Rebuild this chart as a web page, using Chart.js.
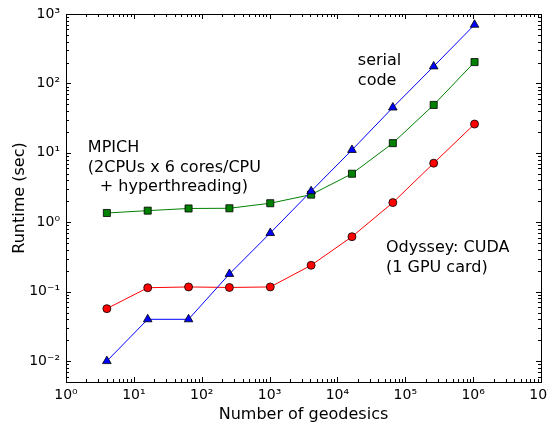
<!DOCTYPE html>
<html>
<head>
<meta charset="utf-8">
<script src="https://cdn.jsdelivr.net/npm/chart.js@4.4.1/dist/chart.umd.min.js"></script>
<style>
  html, body { margin: 0; padding: 0; background: #fff; }
  #wrap { width: 548px; height: 424px; position: relative; }
</style>
</head>
<body>
<div id="wrap"><canvas id="grafico"></canvas></div>
<script>
// number of geodesics (x) and runtime in seconds (y)
const geodesics = [4, 16, 64, 256, 1024, 4096, 16384, 65536, 262144, 1048576];
const serialCode = [0.01, 0.04, 0.04, 0.18, 0.7, 2.8, 11, 45, 176, 700];
const mpich = [1.36, 1.47, 1.58, 1.59, 1.88, 2.5, 5.0, 13.8, 49, 203];
const cuda = [0.057, 0.114, 0.117, 0.115, 0.117, 0.24, 0.62, 1.92, 7.1, 26];

const xTicks = [1, 10, 100, 1e3, 1e4, 1e5, 1e6, 1e7];
const yTicks = [0.01, 0.1, 1, 10, 100, 1000];

// text blocks: anchor in data coords, lines below it
const notas = [
    { x: 2.0e4, y: 184, lines: ["serial", "code"], indent: [0, 0] },
    { x: 2.1, y: 10.2, lines: ["MPICH", "(2CPUs x 6 cores/CPU", "+ hyperthreading)"], indent: [0, 0, 12] },
    { x: 5.2e4, y: 0.368, lines: ["Odyssey: CUDA", "(1 GPU card)"], indent: [0, 0] }
];

const sup = { "-": "\u207B", "0": "\u2070", "1": "\u00B9", "2": "\u00B2", "3": "\u00B3",
              "4": "\u2074", "5": "\u2075", "6": "\u2076", "7": "\u2077", "8": "\u2078", "9": "\u2079" };
function potencia(v) {
    const e = String(Math.round(Math.log10(v)));
    return "10" + e.split("").map(c => sup[c]).join("");
}

function pontos(ys) {
    return geodesics.map((g, i) => ({ x: g, y: ys[i] }));
}

// inward ticks on all four sides + frame + text
const molduraPlugin = {
    id: "moldura",
    afterDraw(chart) {
        const { ctx, chartArea: a, scales: { x, y } } = chart;
        ctx.save();
        ctx.strokeStyle = "#000";
        ctx.lineWidth = 1;
        ctx.beginPath();
        for (let d = 0; d < 7; d++) {
            for (let m = 1; m <= 9; m++) {
                const v = m * Math.pow(10, d);
                if (v < x.min || v > x.max) continue;
                const px = Math.round(x.getPixelForValue(v)) + 0.5;
                const len = m === 1 ? 5 : 3;
                ctx.moveTo(px, a.bottom); ctx.lineTo(px, a.bottom - len);
                ctx.moveTo(px, a.top); ctx.lineTo(px, a.top + len);
            }
        }
        for (let d = -3; d < 3; d++) {
            for (let m = 1; m <= 9; m++) {
                const v = m * Math.pow(10, d);
                if (v < y.min * 0.999 || v > y.max * 1.001) continue;
                const py = Math.round(y.getPixelForValue(v)) + 0.5;
                const len = m === 1 ? 5 : 3;
                ctx.moveTo(a.left, py); ctx.lineTo(a.left + len, py);
                ctx.moveTo(a.right, py); ctx.lineTo(a.right - len, py);
            }
        }
        ctx.stroke();
        ctx.strokeRect(Math.round(a.left) + 0.5, Math.round(a.top) + 0.5,
                       Math.round(a.right - a.left), Math.round(a.bottom - a.top));

        ctx.fillStyle = "#000";
        ctx.font = "16px 'DejaVu Sans'";
        ctx.textBaseline = "alphabetic";
        ctx.textAlign = "left";
        notas.forEach(n => {
            const px = x.getPixelForValue(n.x);
            const py = y.getPixelForValue(n.y);
            n.lines.forEach((t, i) => ctx.fillText(t, px + n.indent[i], py + i * 19.5));
        });
        ctx.restore();
    }
};

const ctx = document.getElementById("grafico");

new Chart(ctx, {
    type: "line",
    data: {
        datasets: [
            {
                label: "serial code",
                data: pontos(serialCode),
                borderColor: "#0000ff",
                backgroundColor: "#0000ff",
                pointBackgroundColor: "#0000ff",
                pointBorderColor: "#000",
                pointStyle: "triangle",
                pointRadius: 5,
                pointBorderWidth: 0.8,
                borderWidth: 1,
                tension: 0
            },
            {
                label: "MPICH",
                data: pontos(mpich),
                borderColor: "#008000",
                backgroundColor: "#008000",
                pointBackgroundColor: "#008000",
                pointBorderColor: "#000",
                pointStyle: "rect",
                pointRadius: 5,
                pointBorderWidth: 0.8,
                borderWidth: 1,
                tension: 0
            },
            {
                label: "CUDA",
                data: pontos(cuda),
                borderColor: "#ff0000",
                backgroundColor: "#ff0000",
                pointBackgroundColor: "#ff0000",
                pointBorderColor: "#000",
                pointStyle: "circle",
                pointRadius: 4,
                pointBorderWidth: 0.8,
                borderWidth: 1,
                tension: 0
            }
        ]
    },
    options: {
        responsive: true,
        maintainAspectRatio: false,
        animation: false,
        events: [],
        layout: { padding: { left: 0, top: 14, right: 7, bottom: 0 } },
        plugins: {
            legend: { display: false },
            tooltip: { enabled: false }
        },
        scales: {
            x: {
                type: "logarithmic",
                min: 1,
                max: 1e7,
                afterBuildTicks: s => { s.ticks = xTicks.map(v => ({ value: v })); },
                afterFit: s => { s.height = 42; s.paddingLeft = 0; s.paddingRight = 0; },
                grid: { display: false, drawTicks: false },
                border: { display: false },
                ticks: {
                    color: "#000",
                    font: { family: "DejaVu Sans", size: 14 },
                    padding: 5,
                    maxRotation: 0,
                    autoSkip: false,
                    callback: v => potencia(v)
                },
                title: {
                    display: true,
                    text: "Number of geodesics",
                    color: "#000",
                    font: { family: "DejaVu Sans", size: 16 },
                    padding: { top: 0, bottom: 0 }
                }
            },
            y: {
                type: "logarithmic",
                min: 0.005,
                max: 1000,
                afterBuildTicks: s => { s.ticks = yTicks.map(v => ({ value: v })); },
                afterFit: s => { s.width = 66; s.paddingTop = 0; s.paddingBottom = 0; },
                grid: { display: false, drawTicks: false },
                border: { display: false },
                ticks: {
                    color: "#000",
                    font: { family: "DejaVu Sans", size: 14 },
                    padding: 6,
                    autoSkip: false,
                    callback: v => potencia(v)
                },
                title: {
                    display: true,
                    text: "Runtime (sec)",
                    color: "#000",
                    font: { family: "DejaVu Sans", size: 16 },
                    padding: { top: 10, bottom: 0 }
                }
            }
        }
    },
    plugins: [molduraPlugin]
});
</script>
</body>
</html>
